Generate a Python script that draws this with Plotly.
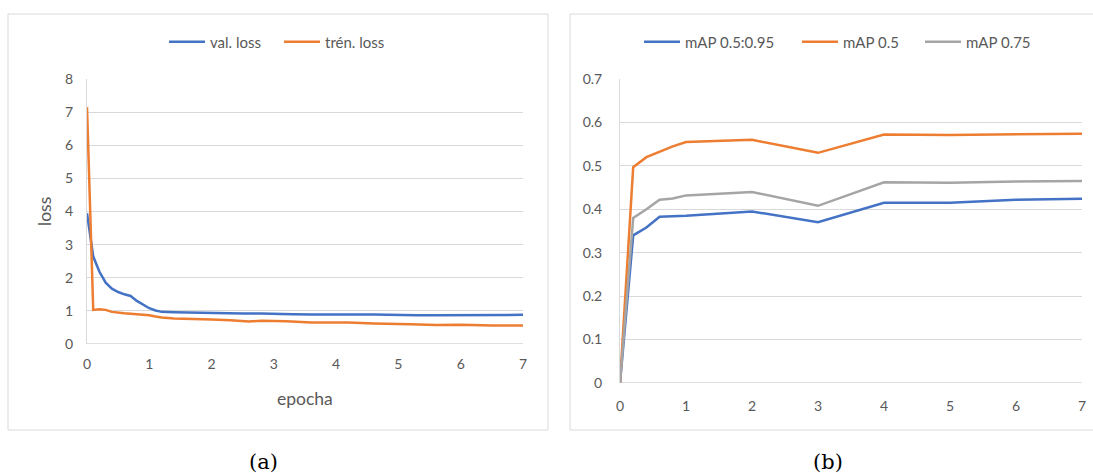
import plotly.graph_objects as go

# ---- panel (a): loss ----
val_x = [0, 0.1, 0.2, 0.3, 0.4, 0.5, 0.6, 0.7, 0.8, 0.9, 1.0, 1.1, 1.2, 1.4, 1.6, 1.8, 2.0, 2.2, 2.5, 2.8, 3.0, 3.3, 3.6, 4.0, 4.3, 4.6, 5.0, 5.3, 5.6, 6.0, 6.3, 6.6, 7.0]
val_loss = [3.95, 2.64, 2.18, 1.85, 1.67, 1.57, 1.50, 1.45, 1.30, 1.18, 1.08, 1.01, 0.97, 0.96, 0.95, 0.94, 0.95, 0.94, 0.92, 0.92, 0.92, 0.90, 0.89, 0.90, 0.89, 0.89, 0.87, 0.87, 0.87, 0.87, 0.88, 0.87, 0.88]

tr_x = [0, 0.1, 0.2, 0.3, 0.4, 0.5, 0.6, 0.8, 1.0, 1.1, 1.2, 1.4, 1.6, 1.8, 2.0, 2.3, 2.6, 2.8, 3.2, 3.6, 4.0, 4.2, 4.6, 5.0, 5.2, 5.6, 6.0, 6.5, 7.0]
tr_loss = [7.15, 1.03, 1.05, 1.03, 0.97, 0.94, 0.93, 0.90, 0.87, 0.83, 0.80, 0.77, 0.76, 0.77, 0.74, 0.72, 0.68, 0.70, 0.69, 0.65, 0.66, 0.65, 0.62, 0.62, 0.60, 0.57, 0.58, 0.56, 0.56]

# ---- panel (b): mAP ----
map_x = [0, 0.2, 0.4, 0.6, 0.8, 1, 2, 3, 4, 5, 6, 7]
map_5095 = [0, 0.340, 0.358, 0.383, 0.384, 0.385, 0.395, 0.370, 0.415, 0.415, 0.422, 0.424]
map_50 = [0, 0.497, 0.520, 0.532, 0.545, 0.555, 0.560, 0.530, 0.572, 0.571, 0.573, 0.574]
map_75 = [0, 0.380, 0.400, 0.422, 0.425, 0.432, 0.440, 0.408, 0.462, 0.461, 0.464, 0.465]

a_ticks = [0, 1, 2, 3, 4, 5, 6, 7, 8]
b_ticks = [0, 0.1, 0.2, 0.3, 0.4, 0.5, 0.6, 0.7]
x_ticks = [0, 1, 2, 3, 4, 5, 6, 7]

BLUE = "#4472C4"
ORANGE = "#ED7D31"
GRAY = "#A5A5A5"
TXT = "#595959"
GRID = "#D9D9D9"
FONT = "Lato"

W, H = 1093, 473

def px(v):
    return v / W

def py(v):
    return 1 - v / H

fig = go.Figure()
traces = [
    (val_x, val_loss, "val. loss", BLUE, "x", "y", "legend"),
    (tr_x, tr_loss, "trén. loss", ORANGE, "x", "y", "legend2"),
    (map_x, map_5095, "mAP 0.5:0.95", BLUE, "x2", "y2", "legend3"),
    (map_x, map_50, "mAP 0.5", ORANGE, "x2", "y2", "legend4"),
    (map_x, map_75, "mAP 0.75", GRAY, "x2", "y2", "legend5"),
]
for xs, ys, name, col, xa, ya, lg in traces:
    fig.add_trace(go.Scatter(x=xs, y=ys, mode="lines", name=name,
                             line=dict(color=col, width=2.5), xaxis=xa, yaxis=ya, legend=lg))

tick_font = dict(size=14, color=TXT, family=FONT)
leg_font = dict(size=15, color=TXT, family=FONT)

# legend entry left positions (pixels)
leg_pos = {"legend": 172, "legend2": 287, "legend3": 647, "legend4": 805, "legend5": 928}
leg_layout = {}
for k, xpix in leg_pos.items():
    leg_layout[k] = dict(orientation="h", x=px(xpix - 8), y=py(42), xanchor="left", yanchor="middle",
                         font=leg_font, bgcolor="rgba(0,0,0,0)", itemwidth=36, tracegroupgap=0)

fig.update_layout(
    width=W, height=H,
    margin=dict(l=0, r=0, t=0, b=0, autoexpand=False),
    paper_bgcolor="white", plot_bgcolor="white",
    font=dict(family=FONT, color=TXT, size=14),
    xaxis=dict(domain=[px(87), px(523)], range=[0, 7], tickvals=x_ticks, anchor="y",
               showgrid=False, zeroline=False, ticks="", tickfont=tick_font, automargin=False,
               showline=False, fixedrange=True, ticklabelstandoff=10),
    yaxis=dict(domain=[py(344), py(79)], range=[0, 8], tickvals=a_ticks, anchor="x",
               showgrid=True, gridcolor=GRID, gridwidth=1, zeroline=False, ticks="",
               tickfont=tick_font, ticklabelstandoff=10, automargin=False,
               showline=True, linecolor=GRID, linewidth=1, fixedrange=True),
    xaxis2=dict(domain=[px(620), px(1082)], range=[0, 7], tickvals=x_ticks, anchor="y2",
                showgrid=False, zeroline=False, ticks="", tickfont=tick_font, automargin=False,
                showline=False, fixedrange=True, ticklabelstandoff=13),
    yaxis2=dict(domain=[py(383), py(79)], range=[0, 0.7], tickvals=b_ticks, anchor="x2",
                showgrid=True, gridcolor=GRID, gridwidth=1, zeroline=False, ticks="",
                tickfont=tick_font, ticklabelstandoff=14, automargin=False,
                showline=True, linecolor=GRID, linewidth=1, fixedrange=True),
    showlegend=True,
    **leg_layout,
)

shapes = [
    dict(type="rect", xref="paper", yref="paper", x0=px(8), x1=px(548), y0=py(430), y1=py(14),
         line=dict(color=GRID, width=1), fillcolor="rgba(0,0,0,0)", layer="below"),
    dict(type="rect", xref="paper", yref="paper", x0=px(570), x1=px(1095), y0=py(430), y1=py(14),
         line=dict(color=GRID, width=1), fillcolor="rgba(0,0,0,0)", layer="below"),
    dict(type="line", xref="x domain", yref="y", x0=0, x1=1, y0=0, y1=0,
         line=dict(color="#BFBFBF", width=1.2), layer="below"),
    dict(type="line", xref="x2 domain", yref="y2", x0=0, x1=1, y0=0, y1=0,
         line=dict(color="#BFBFBF", width=1.2), layer="below"),
]
fig.update_layout(shapes=shapes)

annotations = [
    dict(text="loss", xref="paper", yref="paper", x=px(45), y=py(212), showarrow=False,
         textangle=-90, font=dict(size=17.5, color=TXT, family=FONT), xanchor="center", yanchor="middle"),
    dict(text="epocha", xref="paper", yref="paper", x=px(305), y=py(398), showarrow=False,
         font=dict(size=17.5, color=TXT, family=FONT), xanchor="center", yanchor="middle"),
    dict(text="(a)", xref="paper", yref="paper", x=px(263), y=py(462), showarrow=False,
         font=dict(size=21, color="#000000", family="DejaVu Serif"), xanchor="center", yanchor="middle"),
    dict(text="(b)", xref="paper", yref="paper", x=px(828), y=py(462), showarrow=False,
         font=dict(size=21, color="#000000", family="DejaVu Serif"), xanchor="center", yanchor="middle"),
]
fig.update_layout(annotations=annotations)

fig.write_html("out.html", config={"displayModeBar": False},
               post_script="document.body.style.margin='0';document.body.style.overflow='hidden';")
